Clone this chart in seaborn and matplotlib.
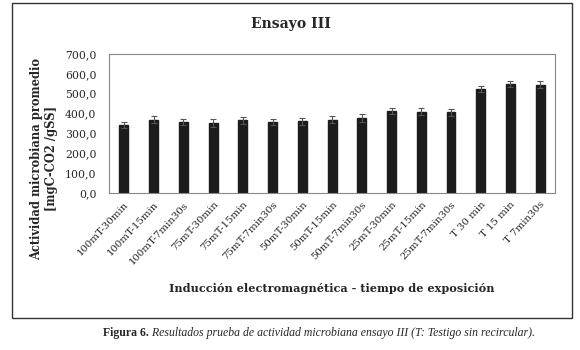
import numpy as np
import pandas as pd
import matplotlib
matplotlib.use('Agg')
import matplotlib.pyplot as plt
import seaborn as sns
from matplotlib.patches import Rectangle

# Data
categorias = ['100mT-30min', '100mT-15min', '100mT-7min30s', '75mT-30min',
              '75mT-15min', '75mT-7min30s', '50mT-30min', '50mT-15min',
              '50mT-7min30s', '25mT-30min', '25mT-15min', '25mT-7min30s',
              'T 30 min', 'T 15 min', 'T 7min30s']
actividad = [342, 368, 357, 353, 365, 357, 360, 368, 377, 412, 408, 405, 522, 550, 545]
error = [17, 17, 17, 20, 16, 16, 16, 18, 18, 17, 17, 17, 16, 15, 18]

df = pd.DataFrame({'cat': categorias, 'val': actividad, 'err': error})

sns.set_theme(style='white')
plt.rcParams['font.family'] = ['DejaVu Serif']

fig = plt.figure(figsize=(5.8, 3.5), dpi=100)
ax = fig.add_axes([0.188, 0.449, 0.769, 0.397])

sns.barplot(data=df, x='cat', y='val', color='#1c1c1c', width=0.3,
            errorbar=None, ax=ax, edgecolor='#1c1c1c')
ax.errorbar(np.arange(len(df)), df.val, yerr=df.err, fmt='none',
            ecolor='#555555', elinewidth=0.8, capsize=2.5, capthick=0.8)

ax.set_ylim(0, 700)
ax.set_yticks(range(0, 701, 100))
ax.set_yticklabels([f"{v},0" for v in range(0, 701, 100)], fontsize=7.8)
ax.set_xlim(-0.5, len(df) - 0.5)
ax.set_xticks(np.arange(len(df)))
ax.set_xticklabels(categorias, rotation=47, ha='right', rotation_mode='anchor', fontsize=7.3)
ax.tick_params(axis='y', length=0, pad=9)
ax.tick_params(axis='x', length=0, pad=5)
for s in ax.spines.values():
    s.set_color('#888888')
    s.set_linewidth(0.8)

ax.set_xlabel('Inducción electromagnética - tiempo de exposición', fontsize=8.1,
              fontweight='bold', labelpad=12)
ax.set_ylabel('Actividad microbiana promedio\n[mgC-CO2 /gSS]', fontsize=8.3,
              fontweight='bold')
ax.yaxis.set_label_coords(-0.114, 0.245)
fig.text(0.502, 0.931, 'Ensayo III', ha='center', va='center', fontsize=10, fontweight='bold')

# outer frame
fig.patches.append(Rectangle((12/580, 1-318/350), 560/580, 315/350,
                             transform=fig.transFigure, fill=False,
                             edgecolor='#333333', linewidth=1.0))

cap_x = 0.257
cap_y = 1 - 333/350
fig.text(cap_x, cap_y, 'Figura 6.', ha='right', va='center', fontsize=8.5,
         fontweight='bold', family='Liberation Serif')
fig.text(cap_x, cap_y, ' Resultados prueba de actividad microbiana ensayo III (T: Testigo sin recircular).',
         ha='left', va='center', fontsize=8.5, style='italic', family='Liberation Serif')

fig.savefig('out.png', dpi=100)
